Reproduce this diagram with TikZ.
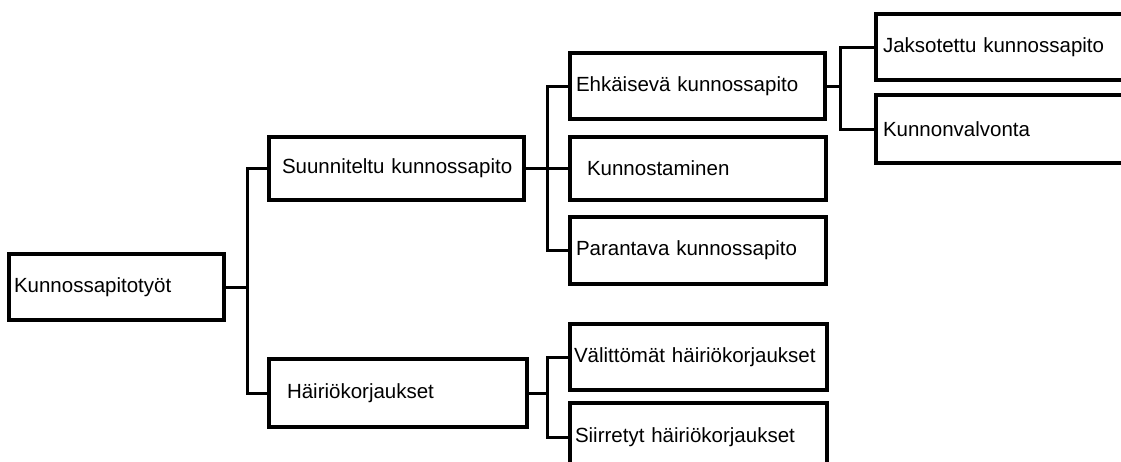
\documentclass[tikz,border=0pt]{standalone}
\usepackage{fontspec}
\setmainfont{Liberation Sans}
\begin{document}
\begin{tikzpicture}[x=1pt,y=-1pt,
  box/.style={draw, line width=3.4pt, outer sep=0pt, anchor=north west,
    align=left, inner ysep=0pt, font=\fontsize{20.5}{24}\selectfont},
  link/.style={draw, line width=3pt, line join=miter}]
  \useasboundingbox (0,0) rectangle (1121,461);
  \fill[white] (0,0) rectangle (1121,461);
  \clip (0,0) rectangle (1121,461);

  % level 0
  \node[box, minimum height=66pt, inner xsep=5pt, text width=205pt] (root) at (9,254) {\mbox{Kunnossapitotyöt}};

  % level 1
  \node[box, minimum height=63pt, inner xsep=13pt, text width=229pt] (sun) at (269,137) {\mbox{Suunniteltu kunnossapito}};
  \node[box, minimum height=68pt, inner xsep=18pt, text width=222pt] (hai) at (269,359) {\mbox{Häiriökorjaukset}};

  % level 2
  \node[box, minimum height=66pt, inner xsep=6pt, text width=243pt] (ehk) at (570,53) {\mbox{Ehkäisevä kunnossapito}};
  \node[box, minimum height=63pt, inner xsep=17pt, text width=222pt] (kun) at (570,137) {\mbox{Kunnostaminen}};
  \node[box, minimum height=67pt, inner xsep=6pt, text width=244pt] (par) at (570,217) {\mbox{Parantava kunnossapito}};
  \node[box, minimum height=66pt, inner xsep=4pt, text width=249pt] (val) at (570,324) {\mbox{Välittömät häiriökorjaukset}};
  \node[box, minimum height=68pt, inner xsep=5pt, text width=247pt] (sii) at (570,403) {\mbox{Siirretyt häiriökorjaukset}};

  % level 3
  \node[box, minimum height=66pt, inner xsep=7pt, text width=286pt] (jak) at (876,14) {\mbox{Jaksotettu kunnossapito}};
  \node[box, minimum height=68pt, inner xsep=7pt, text width=286pt] (kvv) at (876,95) {\mbox{Kunnonvalvonta}};

  % branch points
  \coordinate (j1) at (247,287);
  \coordinate (j2) at (547,168.5);
  \coordinate (j3) at (840,86);
  \coordinate (j4) at (547,393);

  % connectors
  \draw[link] (root.east) -- (j1);
  \draw[link] (sun.west) -| (j1) |- (hai.west);

  \draw[link] (sun.east) -- (kun.west);
  \draw[link] (ehk.west) -| (j2) |- (par.west);

  \draw[link] (ehk.east) -- (j3);
  \draw[link] (jak.west) -| (j3) |- (kvv.west);

  \draw[link] (hai.east) -- (j4);
  \draw[link] (val.west) -| (j4) |- (sii.west);
\end{tikzpicture}
\end{document}
